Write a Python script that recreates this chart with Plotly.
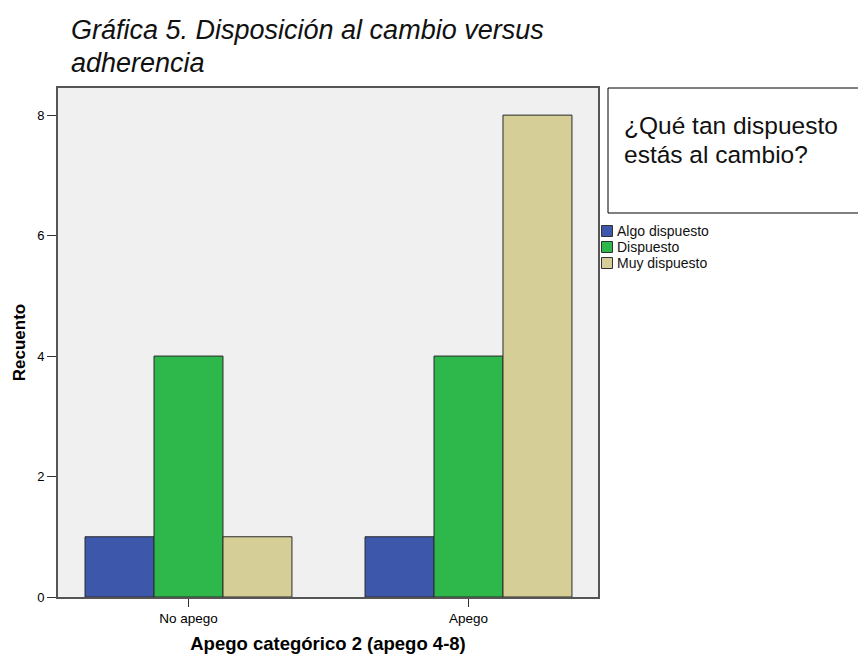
import plotly.graph_objects as go

categories = ["No apego", "Apego"]
series_names = ["Algo dispuesto", "Dispuesto", "Muy dispuesto"]
algo = [1, 1]
dispuesto = [4, 4]
muy = [1, 8]
colors = ["#3d57ab", "#2eb74a", "#d5cf97"]
y_ticks = [0, 2, 4, 6, 8]

W, H = 858, 654
L, R, T, B = 58, 598, 88, 597
pw, ph = R - L, B - T

def px(x):
    return (x - L) / pw

def py(y):
    return (B - y) / ph

fig = go.Figure()
for name, vals, col in zip(series_names, [algo, dispuesto, muy], colors):
    fig.add_trace(go.Bar(x=categories, y=vals, name=name, showlegend=False,
                         marker=dict(color=col, line=dict(color="#2a2a2a", width=1))))

fig.update_layout(
    width=W, height=H,
    margin=dict(l=L, r=W - R, t=T, b=H - B, pad=0, autoexpand=False),
    paper_bgcolor="white", plot_bgcolor="#f0f0f0",
    barmode="group", bargap=0.261, bargroupgap=0,
    font=dict(family="Liberation Sans, Arial, sans-serif", color="#000"),
    showlegend=False,
    xaxis=dict(range=[-0.466, 1.4625], showline=True, linecolor="#555", linewidth=2,
               mirror=True, ticks="outside", ticklen=8, tickcolor="#333",
               tickfont=dict(size=13.5), showgrid=False, automargin=False,
               title=dict(text="<b>Apego categórico 2 (apego 4-8)</b>", font=dict(size=18.5), standoff=14)),
    yaxis=dict(range=[0, 8.45], tickvals=y_ticks, showline=True, linecolor="#555", linewidth=2,
               mirror=True, ticks="outside", ticklen=9, tickcolor="#333",
               tickfont=dict(size=13), showgrid=False, zeroline=False, automargin=False,
               title=dict(text="<b>Recuento</b>", font=dict(size=17), standoff=7)),
)

# Box with question
fig.add_shape(type="rect", xref="paper", yref="paper",
              x0=px(608), x1=px(900), y0=py(213), y1=py(88),
              line=dict(color="#000", width=1), fillcolor="white")
fig.add_annotation(xref="paper", yref="paper", x=px(622), y=py(126), xanchor="left", yanchor="middle",
                   text="¿Qué tan dispuesto", showarrow=False, font=dict(size=24.5, color="#111"))
fig.add_annotation(xref="paper", yref="paper", x=px(622), y=py(154), xanchor="left", yanchor="middle",
                   text="estás al cambio?", showarrow=False, font=dict(size=24.5, color="#111"))

# Legend (drawn to match compact spacing)
leg_rows = [231, 247, 263]
for name, col, yc in zip(series_names, colors, leg_rows):
    fig.add_shape(type="rect", xref="paper", yref="paper",
                  x0=px(601.5), x1=px(612.5), y0=py(yc + 5.5), y1=py(yc - 5.5),
                  line=dict(color="#333", width=1), fillcolor=col)
    fig.add_annotation(xref="paper", yref="paper", x=px(615), y=py(yc), xanchor="left", yanchor="middle",
                       text=name, showarrow=False, font=dict(size=14, color="#111"))

# Title
fig.add_annotation(xref="paper", yref="paper", x=px(69), y=py(30), xanchor="left", yanchor="middle",
                   text="Gráfica 5. Disposición al cambio versus", showarrow=False,
                   font=dict(size=27, color="#111", style="italic"))
fig.add_annotation(xref="paper", yref="paper", x=px(69), y=py(63), xanchor="left", yanchor="middle",
                   text="adherencia", showarrow=False,
                   font=dict(size=27, color="#111", style="italic"))

fig.write_html("out.html", config={"displayModeBar": False},
               post_script="document.body.style.margin='0';document.body.style.overflow='hidden';")
